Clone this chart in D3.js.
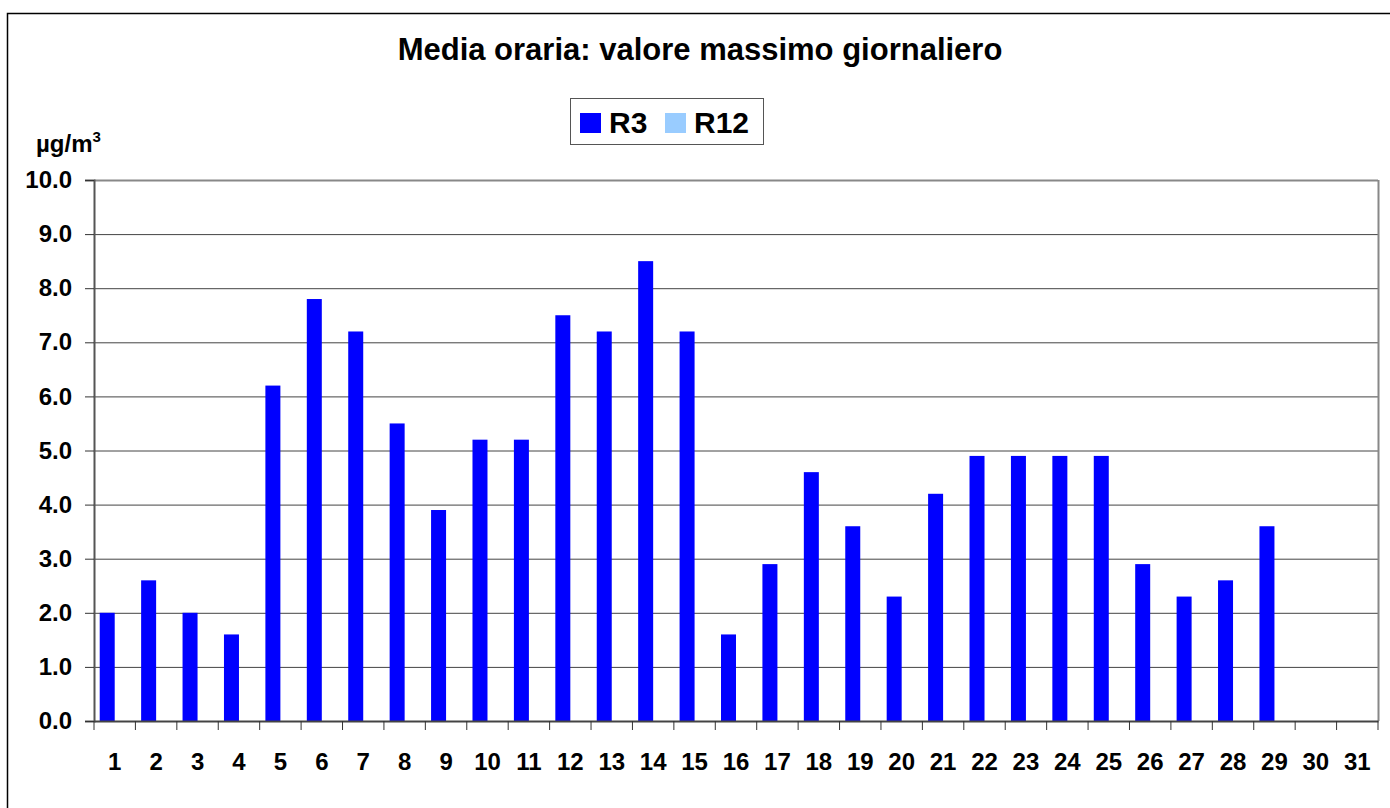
<!DOCTYPE html>
<html>
<head>
<meta charset="utf-8">
<script src="https://cdn.jsdelivr.net/npm/d3@7"></script>
<style>
  body { margin: 0; background: #fff; }
  text { font-family: Arial, "Liberation Sans", sans-serif; font-weight: bold; fill: #000; }
</style>
</head>
<body>
<div id="container"></div>
<script>
/* DATA */
const days = d3.range(1, 32).map(String);
const seriesNames = ["R3", "R12"];
const seriesColors = ["#0000ff", "#99ccff"];
const r3Values = [2.0, 2.6, 2.0, 1.6, 6.2, 7.8, 7.2, 5.5, 3.9, 5.2, 5.2, 7.5, 7.2, 8.5, 7.2,
  1.6, 2.9, 4.6, 3.6, 2.3, 4.2, 4.9, 4.9, 4.9, 4.9, 2.9, 2.3, 2.6, 3.6, null, null];
const r12Values = days.map(() => null);
const yTicks = [0, 1, 2, 3, 4, 5, 6, 7, 8, 9, 10];

/* CONSTANTS */
const width = 1390;
const height = 808;
const margin = { left: 94, right: 12, top: 180, bottom: 87 };

const svg = d3.select("#container")
  .append("svg")
  .attr("width", width)
  .attr("height", height);

// outer frame
svg.append("rect")
  .attr("x", 7.5).attr("y", 13.5)
  .attr("width", width + 20).attr("height", height + 20)
  .attr("fill", "none")
  .attr("stroke", "#000")
  .attr("stroke-width", 1.5);

// SCALES
const xScale = d3.scaleBand()
  .domain(days)
  .range([margin.left, width - margin.right]);

const xSub = d3.scaleBand()
  .domain(seriesNames)
  .range([0, 30]);

const yScale = d3.scaleLinear()
  .domain([0, 10])
  .range([height - margin.bottom, margin.top]);

// GRIDLINES
svg.append("g")
  .selectAll("line")
  .data(yTicks.slice(1))
  .join("line")
  .attr("x1", margin.left)
  .attr("x2", width - margin.right)
  .attr("y1", d => yScale(d) + 0.5)
  .attr("y2", d => yScale(d) + 0.5)
  .attr("stroke", d => d === 10 ? "#888" : "#444")
  .attr("stroke-width", d => d === 10 ? 2 : 1);

// right edge of plot
svg.append("line")
  .attr("x1", width - margin.right + 0.5).attr("x2", width - margin.right + 0.5)
  .attr("y1", margin.top).attr("y2", height - margin.bottom)
  .attr("stroke", "#888").attr("stroke-width", 2);

// BARS
const series = [r3Values, r12Values];
series.forEach((vals, s) => {
  svg.append("g")
    .selectAll("rect")
    .data(vals.map((v, i) => ({ day: days[i], v })).filter(d => d.v != null))
    .join("rect")
    .attr("x", d => xScale(d.day) + xScale.bandwidth() / 2 - 15 + xSub(seriesNames[s]))
    .attr("width", xSub.bandwidth())
    .attr("y", d => yScale(d.v))
    .attr("height", d => yScale(0) - yScale(d.v))
    .attr("fill", seriesColors[s]);
});

// AXES
const yAxis = d3.axisLeft(yScale)
  .tickValues(yTicks)
  .tickFormat(d3.format(".1f"))
  .tickSize(9)
  .tickPadding(13);

const yAxisGroup = svg.append("g")
  .attr("transform", `translate(${margin.left}, 0)`)
  .call(yAxis);
yAxisGroup.select(".domain").attr("stroke", "#555").attr("stroke-width", 2);
yAxisGroup.selectAll(".tick line").attr("stroke", "#333");
yAxisGroup.selectAll("text").style("font-size", "24px");

const xAxis = d3.axisBottom(xScale)
  .tickSize(0)
  .tickPadding(32);

const xAxisGroup = svg.append("g")
  .attr("transform", `translate(0, ${height - margin.bottom})`)
  .call(xAxis);
xAxisGroup.select(".domain").attr("stroke", "#444").attr("stroke-width", 2);
xAxisGroup.selectAll("text").style("font-size", "24px");

// x tick marks between categories
xAxisGroup.append("g")
  .selectAll("line")
  .data(days.concat(["end"]))
  .join("line")
  .attr("x1", (d, i) => i < days.length ? xScale(d) : width - margin.right)
  .attr("x2", (d, i) => i < days.length ? xScale(d) : width - margin.right)
  .attr("y1", 0).attr("y2", 9)
  .attr("stroke", "#333");

// UNIT LABEL
const unit = svg.append("text")
  .attr("x", 36).attr("y", 152)
  .style("font-size", "24px");
unit.append("tspan").text("\u00b5g/m");
unit.append("tspan").attr("dy", -10).style("font-size", "15px").text("3");

// TITLE
svg.append("text")
  .attr("x", 700).attr("y", 60)
  .attr("text-anchor", "middle")
  .style("font-size", "31px")
  .text("Media oraria: valore massimo giornaliero");

// LEGEND
const legend = svg.append("g");
legend.append("rect")
  .attr("x", 570.5).attr("y", 98.5)
  .attr("width", 193).attr("height", 46)
  .attr("fill", "#fff").attr("stroke", "#555");

const legendX = [580, 665];
seriesNames.forEach((name, i) => {
  legend.append("rect")
    .attr("x", legendX[i]).attr("y", 113)
    .attr("width", 21).attr("height", 20)
    .attr("fill", seriesColors[i]);
  legend.append("text")
    .attr("x", legendX[i] + 29).attr("y", 133)
    .style("font-size", "30px")
    .text(name);
});
</script>
</body>
</html>
